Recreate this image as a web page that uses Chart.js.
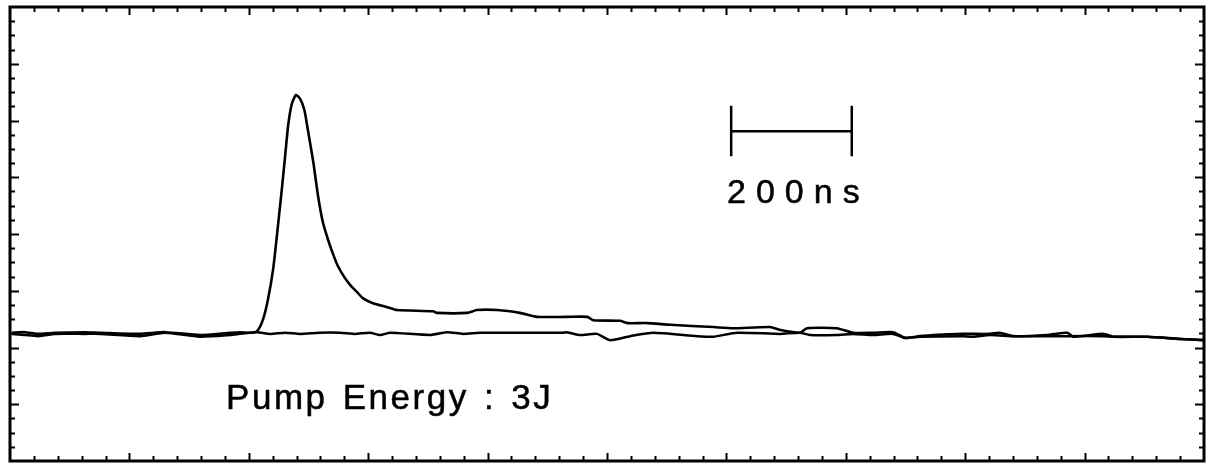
<!DOCTYPE html>
<html lang="en">
<head>
    <meta charset="UTF-8">
    <title>Pump Energy : 3J</title>
    <script src="https://cdn.jsdelivr.net/npm/chart.js"></script>
    <style>
        html, body { margin: 0; padding: 0; background: #fff; }
        #wrap { width: 1207px; height: 465px; }
    </style>
</head>
<body>
    <div id="wrap"><canvas id="scope"></canvas></div>
    <script>
        // time in ns (one graticule division = 200 ns), signal in divisions
        const signalTime = [3, 25, 47, 75, 126, 151, 218, 260, 318, 369, 385, 402, 414, 424, 432, 441, 449, 456, 461, 466,
            472, 479, 486, 493, 499, 508, 516, 524, 533, 541, 549, 560, 570, 581, 591, 608, 632, 648, 709, 715,
            766, 782, 816, 854, 883, 933, 967, 977, 1022, 1034, 1067, 1106, 1178, 1211, 1273, 1290, 1323, 1335, 1385, 1412,
            1446, 1479, 1499, 1524, 1546, 1596, 1642, 1658, 1680, 1737, 1771, 1781, 1831, 1848, 1905, 1960, 1998];
        const signalValue = [2.26, 2.27, 2.24, 2.26, 2.27, 2.26, 2.24, 2.27, 2.22, 2.26, 2.27, 2.26, 2.29, 2.50, 2.84, 3.40, 4.16, 4.86, 5.39, 5.92,
            6.29, 6.45, 6.38, 6.19, 5.83, 5.27, 4.67, 4.21, 3.89, 3.65, 3.44, 3.24, 3.10, 2.98, 2.87, 2.78, 2.71, 2.66, 2.64, 2.61,
            2.61, 2.66, 2.66, 2.61, 2.54, 2.54, 2.54, 2.48, 2.47, 2.43, 2.43, 2.40, 2.36, 2.34, 2.36, 2.31, 2.26, 2.34, 2.34, 2.26,
            2.26, 2.27, 2.17, 2.20, 2.22, 2.24, 2.24, 2.26, 2.20, 2.22, 2.26, 2.19, 2.24, 2.19, 2.19, 2.15, 2.13];

        const baseTime = [3, 25, 47, 75, 126, 151, 218, 260, 318, 369, 385, 402, 414, 436, 461, 486, 519, 553, 578, 603,
            620, 637, 704, 732, 759, 787, 854, 926, 933, 955, 983, 1005, 1039, 1077, 1151, 1178, 1218, 1290, 1323, 1340,
            1385, 1412, 1446, 1479, 1499, 1524, 1596, 1613, 1642, 1680, 1737, 1771, 1831, 1848, 1905, 1960, 1998];
        const baseValue = [2.24, 2.22, 2.20, 2.24, 2.24, 2.24, 2.20, 2.26, 2.19, 2.22, 2.24, 2.26, 2.27, 2.24, 2.26, 2.24, 2.26, 2.26, 2.24, 2.26,
            2.22, 2.26, 2.22, 2.27, 2.24, 2.26, 2.26, 2.26, 2.27, 2.22, 2.24, 2.13, 2.20, 2.26, 2.20, 2.19, 2.26, 2.24, 2.26, 2.22,
            2.22, 2.24, 2.22, 2.24, 2.17, 2.19, 2.20, 2.19, 2.22, 2.20, 2.20, 2.20, 2.20, 2.19, 2.19, 2.15, 2.13];

        // graticule: 10 x 8 divisions
        const timeRange = [0, 2000];
        const levelRange = [0, 8];
        const timeMinor = 40, timeMajor = 200;
        const levelMinor = 0.25, levelMajor = 1;

        // annotations
        const barStart = 1208, barEnd = 1410, barLevel = 5.81, capLow = 5.37, capHigh = 6.26;
        const barText = '200ns', barTextAt = [1201, 4.55];
        const noteText = 'Pump Energy : 3J', noteTextAt = [362, 0.92];

        const toPoints = (xs, ys) => xs.map((x, i) => ({ x: x, y: ys[i] }));

        // scanned print looks a bit heavier than a plain fill
        function heavyText(ctx, text, x, y) {
            ctx.fillText(text, x, y);
            ctx.lineWidth = 0.5;
            ctx.strokeText(text, x, y);
        }

        const scopePlugin = {
            id: 'scope',
            afterDraw(chart) {
                const ctx = chart.ctx;
                const a = chart.chartArea;
                const sx = chart.scales.x, sy = chart.scales.y;
                ctx.save();
                ctx.strokeStyle = '#000';
                ctx.fillStyle = '#000';

                // frame
                ctx.lineWidth = 3;
                ctx.strokeRect(a.left, a.top, a.right - a.left, a.bottom - a.top);

                // inward ticks
                ctx.lineWidth = 2;
                ctx.beginPath();
                for (let t = timeRange[0] + timeMinor; t < timeRange[1]; t += timeMinor) {
                    const px = Math.round(sx.getPixelForValue(t)) + 0.5;
                    const len = Math.abs(t % timeMajor) < 1e-6 ? 8 : 5;
                    ctx.moveTo(px, a.top); ctx.lineTo(px, a.top + len);
                    ctx.moveTo(px, a.bottom); ctx.lineTo(px, a.bottom - len);
                }
                for (let v = levelRange[0] + levelMinor; v < levelRange[1]; v += levelMinor) {
                    const py = Math.round(sy.getPixelForValue(v)) + 0.5;
                    const len = Math.abs(v % levelMajor) < 1e-6 ? 9 : 5;
                    ctx.moveTo(a.left, py); ctx.lineTo(a.left + len, py);
                    ctx.moveTo(a.right, py); ctx.lineTo(a.right - len, py);
                }
                ctx.stroke();

                // 200 ns scale bar
                const x0 = sx.getPixelForValue(barStart), x1 = sx.getPixelForValue(barEnd);
                ctx.lineWidth = 2.5;
                ctx.beginPath();
                ctx.moveTo(x0, sy.getPixelForValue(barLevel)); ctx.lineTo(x1, sy.getPixelForValue(barLevel));
                ctx.moveTo(x0, sy.getPixelForValue(capLow)); ctx.lineTo(x0, sy.getPixelForValue(capHigh));
                ctx.moveTo(x1, sy.getPixelForValue(capLow)); ctx.lineTo(x1, sy.getPixelForValue(capHigh));
                ctx.stroke();

                ctx.textBaseline = 'alphabetic';
                ctx.textAlign = 'left';
                ctx.font = '34px "Liberation Sans", Arial, sans-serif';
                ctx.letterSpacing = '10px';
                heavyText(ctx, barText, sx.getPixelForValue(barTextAt[0]), sy.getPixelForValue(barTextAt[1]));

                ctx.font = '35px "Liberation Sans", Arial, sans-serif';
                ctx.letterSpacing = '2.5px';
                ctx.wordSpacing = '3px';
                heavyText(ctx, noteText, sx.getPixelForValue(noteTextAt[0]), sy.getPixelForValue(noteTextAt[1]));
                ctx.restore();
            }
        };

        const ctx = document.getElementById('scope').getContext('2d');
        new Chart(ctx, {
            type: 'line',
            data: {
                datasets: [{
                    label: 'Baseline',
                    data: toPoints(baseTime, baseValue),
                    borderColor: '#000',
                    borderWidth: 2.5,
                    pointRadius: 0,
                    tension: 0.2
                }, {
                    label: 'Signal',
                    data: toPoints(signalTime, signalValue),
                    borderColor: '#000',
                    borderWidth: 2.6,
                    pointRadius: 0,
                    tension: 0.2
                }]
            },
            options: {
                responsive: true,
                maintainAspectRatio: false,
                animation: false,
                layout: { padding: { left: 10, top: 7, right: 3, bottom: 4 } },
                plugins: { legend: { display: false }, tooltip: { enabled: false } },
                scales: {
                    x: { type: 'linear', min: timeRange[0], max: timeRange[1], display: false },
                    y: { min: levelRange[0], max: levelRange[1], display: false }
                }
            },
            plugins: [scopePlugin]
        });
    </script>
</body>
</html>
